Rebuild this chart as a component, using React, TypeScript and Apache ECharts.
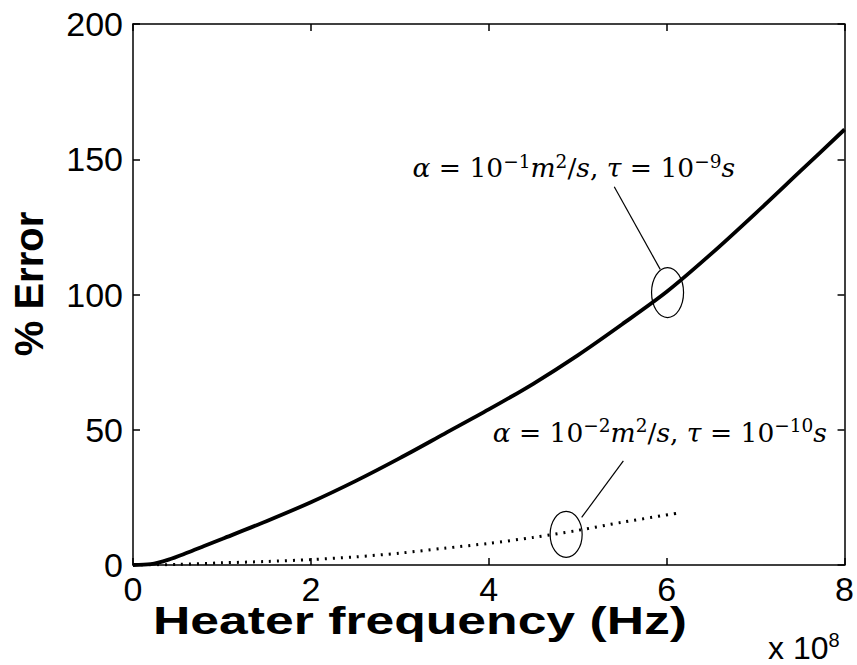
import React, { useEffect, useRef } from 'react';
import * as echarts from 'echarts';

// Heater frequency in units of 1e8 Hz, % error
const solidX = [0, 0.2, 0.4, 0.6, 0.8, 1.0, 1.5, 2.0, 2.5, 3.0, 3.5, 4.0, 4.5, 5.0, 5.5, 6.0, 6.5, 7.0, 7.5, 8.0];
const solidY = [0, 0.3, 2.0, 4.4, 7.0, 9.6, 16.2, 23.2, 31, 39.5, 48.5, 57.5, 67, 77.5, 89, 101, 115, 130, 145.5, 161];
const dottedX = [0, 0.5, 1.0, 1.5, 2.0, 2.5, 3.0, 3.5, 4.0, 4.5, 5.0, 5.5, 6.15];
const dottedY = [0, 0.2, 0.8, 1.3, 2.0, 3.0, 4.4, 6.2, 8.0, 10.2, 12.8, 15.8, 19.3];

const xTicks = [0, 2, 4, 6, 8];
const yTicks = [0, 50, 100, 150, 200];

const xTitle = 'Heater frequency (Hz)';
const yTitle = '% Error';

// annotation anchors (data coords): ellipse centres
const ann1 = [6.01, 100.7];
const ann2 = [4.87, 11.3];

const serif = 'DejaVu Serif';
const sans = 'Liberation Sans';

export default function App() {
  const ref = useRef<HTMLDivElement>(null);
  useEffect(() => {
    if (!ref.current) return;
    const chart = echarts.init(ref.current, null, { renderer: 'svg' });
    const axisLine = { show: true, onZero: false, lineStyle: { color: '#000', width: 1.5 } };
    const axisTick = { show: true, inside: true, length: 7, lineStyle: { color: '#000', width: 1.5 } };
    const xMin = xTicks[0], xMax = xTicks[xTicks.length - 1], xInt = xTicks[1] - xTicks[0];
    const yMin = yTicks[0], yMax = yTicks[yTicks.length - 1], yInt = yTicks[1] - yTicks[0];
    chart.setOption({
      animation: false,
      backgroundColor: '#fff',
      grid: { left: 133, right: 11, top: 24, bottom: 100 },
      xAxis: [
        {
          type: 'value', min: xMin, max: xMax, interval: xInt, position: 'bottom',
          axisLine, axisTick, splitLine: { show: false },
          axisLabel: { color: '#000', fontSize: 34, fontFamily: sans, margin: 7 },
        },
        {
          type: 'value', min: xMin, max: xMax, interval: xInt, position: 'top',
          axisLine, axisTick, splitLine: { show: false }, axisLabel: { show: false },
        },
      ],
      yAxis: [
        {
          type: 'value', min: yMin, max: yMax, interval: yInt, position: 'left',
          axisLine, axisTick, splitLine: { show: false },
          axisLabel: { color: '#000', fontSize: 34, fontFamily: sans, margin: 10 },
        },
        {
          type: 'value', min: yMin, max: yMax, interval: yInt, position: 'right',
          axisLine, axisTick, splitLine: { show: false }, axisLabel: { show: false },
        },
      ],
      series: [
        {
          type: 'line', xAxisIndex: 0, yAxisIndex: 0, showSymbol: false, smooth: 0.3,
          data: solidX.map((x, i) => [x, solidY[i]]),
          lineStyle: { color: '#000', width: 3.8 },
        },
        {
          type: 'line', xAxisIndex: 0, yAxisIndex: 0, showSymbol: false, smooth: 0.3,
          data: dottedX.map((x, i) => [x, dottedY[i]]),
          lineStyle: { color: '#000', width: 3, type: [2, 6], cap: 'butt' },
        },
      ],
    });

    const px = (p: number[]) => chart.convertToPixel({ gridIndex: 0 }, p) as number[];
    const c1 = px(ann1);
    const c2 = px(ann2);
    const lineSt = { stroke: '#000', lineWidth: 1.2, fill: null };
    const rich = {
      i: { fontFamily: serif, fontStyle: 'italic', fontSize: 26.5, lineHeight: 32, color: '#000' },
      r: { fontFamily: serif, fontSize: 26.5, lineHeight: 32, color: '#000' },
      s: { fontFamily: serif, fontSize: 18.5, lineHeight: 18, color: '#000', verticalAlign: 'top' },
    };
    chart.setOption({
      graphic: [
        { type: 'ellipse', shape: { cx: c1[0], cy: c1[1], rx: 16, ry: 25 }, style: lineSt, z: 100 },
        { type: 'ellipse', shape: { cx: c2[0], cy: c2[1], rx: 16, ry: 23 }, style: lineSt, z: 100 },
        { type: 'line', shape: { x1: c1[0] - 53.3, y1: c1[1] - 105.8, x2: c1[0] - 7.3, y2: c1[1] - 23.2 }, style: lineSt, z: 100 },
        { type: 'line', shape: { x1: c2[0] + 57.2, y1: c2[1] - 73.6, x2: c2[0] + 15.5, y2: c2[1] - 17 }, style: lineSt, z: 100 },
        {
          type: 'text', x: c1[0] - 255, y: c1[1] - 125, z: 100,
          style: {
            text: '{i|α}{r| = 10}{s|−1}{i|m}{s|2}{r|/}{i|s}{r|, }{i|τ}{r| = 10}{s|−9}{i|s}',
            rich, verticalAlign: 'middle', align: 'left',
          },
        },
        {
          type: 'text', x: c2[0] - 73.5, y: c2[1] - 102, z: 100,
          style: {
            text: '{i|α}{r| = 10}{s|−2}{i|m}{s|2}{r|/}{i|s}{r|, }{i|τ}{r| = 10}{s|−10}{i|s}',
            rich, verticalAlign: 'middle', align: 'left',
          },
        },
        {
          type: 'text', x: 420, y: 621, scaleX: 1.36, z: 100,
          style: { text: xTitle, font: `bold 38px ${sans}`, fill: '#000', align: 'center', verticalAlign: 'middle' },
        },
        {
          type: 'text', x: 29, y: 284, rotation: Math.PI / 2, z: 100,
          style: { text: yTitle, font: `bold 40px ${sans}`, fill: '#000', align: 'center', verticalAlign: 'middle' },
        },
        {
          type: 'text', x: 768, y: 648, z: 100,
          style: {
            text: '{a|x 10}{b|8}',
            rich: {
              a: { fontFamily: sans, fontSize: 32, lineHeight: 36, color: '#000' },
              b: { fontFamily: sans, fontSize: 20, lineHeight: 20, color: '#000', verticalAlign: 'top' },
            },
            align: 'left', verticalAlign: 'middle',
          },
        },
      ],
    });
    return () => chart.dispose();
  }, []);
  return <div ref={ref} style={{ position: 'absolute', left: 0, top: 0, width: 857, height: 665 }} />;
}
